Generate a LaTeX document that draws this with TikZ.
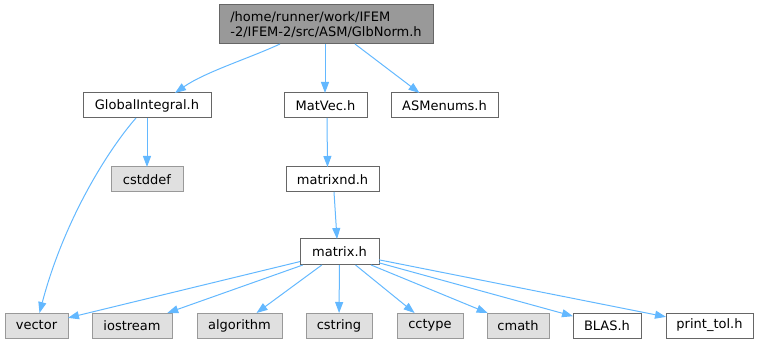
\documentclass[tikz,border=0pt]{standalone}
\usepackage{fontspec}
\setmainfont{DejaVu Sans}
\usetikzlibrary{arrows.meta}
\definecolor{edgeblue}{HTML}{63B8FF}
\definecolor{boxgray}{HTML}{E0E0E0}
\definecolor{rootgray}{HTML}{999999}
\definecolor{bordergray}{HTML}{666666}
\definecolor{lightborder}{HTML}{999999}
\begin{document}
\begin{tikzpicture}[x=1pt,y=1pt,
  every node/.style={font=\fontsize{13}{15}\selectfont, inner sep=0pt, outer sep=0pt},
  filebox/.style={draw=bordergray, fill=white, line width=1pt, minimum height=25pt},
  sysbox/.style={draw=lightborder, fill=boxgray, line width=1pt, minimum height=25pt},
  rootbox/.style={draw=bordergray, fill=rootgray, line width=1pt, minimum height=39pt, align=left},
  edge/.style={draw=edgeblue, line width=1pt, -{Triangle[length=11pt,width=8pt]}}]
\useasboundingbox (0,0) rectangle (759,-344);
\node[rootbox, minimum width=214pt] (root) at (326,-24.5) {/home/runner/work/IFEM\\-2/IFEM-2/src/ASM/GlbNorm.h};
\node[filebox, minimum width=128pt] (gi) at (147,-105.5) {GlobalIntegral.h};
\node[filebox, minimum width=83pt] (mv) at (325.5,-105.5) {MatVec.h};
\node[filebox, minimum width=107pt] (asm) at (444.5,-105.5) {ASMenums.h};
\node[sysbox, minimum width=72pt] (cstddef) at (147,-179.5) {cstddef};
\node[filebox, minimum width=93pt] (mnd) at (332.5,-179.5) {matrixnd.h};
\node[filebox, minimum width=79pt, minimum height=26pt] (mat) at (339.5,-252) {matrix.h};
\node[sysbox, minimum width=63pt] (vector) at (36.5,-325.5) {vector};
\node[sysbox, minimum width=80pt] (iostream) at (132,-325.5) {iostream};
\node[sysbox, minimum width=85pt] (algorithm) at (239.5,-325.5) {algorithm};
\node[sysbox, minimum width=66pt] (cstring) at (339,-325.5) {cstring};
\node[sysbox, minimum width=66pt] (cctype) at (430,-325.5) {cctype};
\node[sysbox, minimum width=62pt] (cmath) at (518,-325.5) {cmath};
\node[filebox, minimum width=68pt] (blas) at (607,-325.5) {BLAS.h};
\node[filebox, minimum width=87pt] (ptol) at (709.5,-325.5) {print\_tol.h};
% edges
\draw[edge] ([xshift=-46pt]root.south) .. controls (250,-58) and (205,-72) .. ([xshift=28pt]gi.north);
\draw[edge] ([xshift=-1pt]root.south) -- ([xshift=-0.5pt]mv.north);
\draw[edge] ([xshift=29pt]root.south) -- ([xshift=-25pt]asm.north);
\draw[edge] ([xshift=-11pt]gi.south) .. controls (108,-150) and (64,-220) .. ([xshift=3pt]vector.north);
\draw[edge] (gi) -- (cstddef);
\draw[edge] ([xshift=1.5pt]mv.south) -- ([xshift=-5pt]mnd.north);
\draw[edge] ([xshift=1.5pt]mnd.south) -- ([xshift=-2.5pt]mat.north);
\draw[edge] (mat) -- (vector);
\draw[edge] (mat) -- (iostream);
\draw[edge] (mat) -- (algorithm);
\draw[edge] (mat) -- (cstring);
\draw[edge] (mat) -- (cctype);
\draw[edge] (mat) -- (cmath);
\draw[edge] (mat) -- (blas);
\draw[edge] (mat) -- (ptol);
\end{tikzpicture}
\end{document}
